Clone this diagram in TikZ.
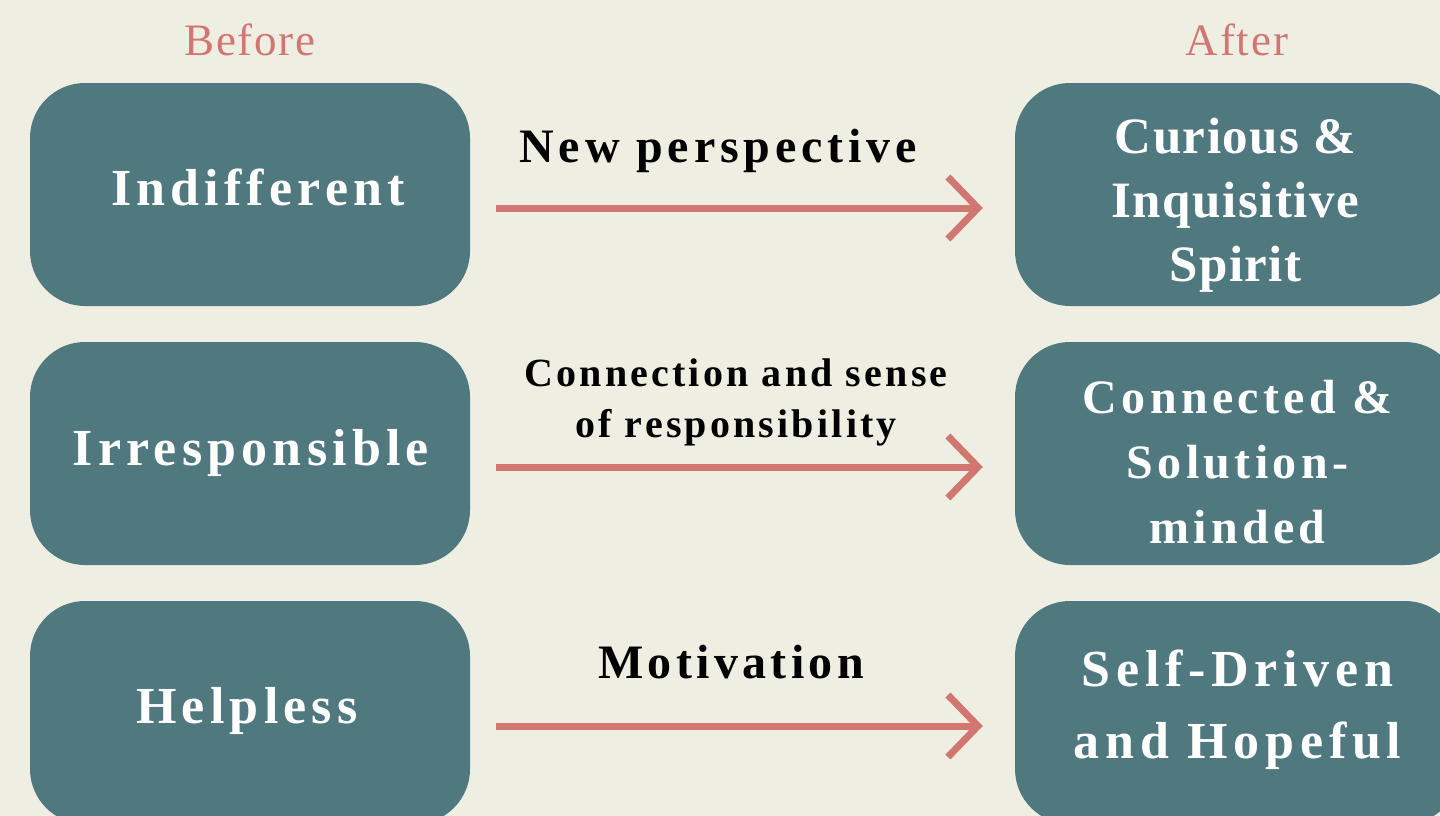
\documentclass[tikz,border=0pt]{standalone}
\usepackage{fontspec}
\setmainfont{Liberation Serif}
\usetikzlibrary{arrows.meta}
\definecolor{bgc}{HTML}{EEEEE2}
\definecolor{boxc}{HTML}{50787F}
\definecolor{rose}{HTML}{D27672}
\begin{document}
\begin{tikzpicture}[x=1pt,y=-1pt,
  box/.style={fill=boxc, rounded corners=55pt, minimum height=223pt, inner sep=0pt},
  lbox/.style={box, minimum width=440pt},
  rbox/.style={box, minimum width=445pt},
  ltxt/.style={text=white, inner sep=0pt,
    font=\fontsize{52}{60}\selectfont\bfseries\addfontfeature{LetterSpace=10}},
  rtxt/.style={text=white, inner sep=0pt, align=center},
  head/.style={text=rose, font=\fontsize{45}{50}\selectfont\addfontfeature{LetterSpace=4}},
  lbl/.style={text=black, align=center},
  arr/.style={draw=rose, line width=7pt, -{Straight Barb[length=30pt,width=62pt]}}
]
\useasboundingbox (0,0) rectangle (1440,816);
\fill[bgc] (0,0) rectangle (1440,816);

\node[head] (hb) at (250,40) {Before};
\node[head] (ha) at (1237,40) {After};

\node[lbox] (L1) at (250,194.5) {};
\node[lbox] (L2) at (250,453.5) {};
\node[lbox] (L3) at (250,712.5) {};
\node[ltxt] (L1t) at ([xshift=8pt,yshift=7pt]L1.center) {Indifferent};
\node[ltxt] (L2t) at ([xshift=1pt,yshift=1pt]L2.center) {Irresponsible};
\node[ltxt] (L3t) at ([xshift=-3pt,yshift=2pt]L3.center) {Helpless};

\node[rbox] (R1) at (1237.5,194.5) {};
\node[rbox] (R2) at (1237.5,453.5) {};
\node[rbox] (R3) at (1237.5,712.5) {};
\node[rtxt, font=\fontsize{51}{64}\selectfont\bfseries\addfontfeature{LetterSpace=3}]
  (R1t) at ([xshift=-2pt,yshift=-11pt]R1.center) {Curious \&\\Inquisitive\\Spirit};
\node[rtxt, font=\fontsize{48}{65}\selectfont\bfseries\addfontfeature{LetterSpace=9}]
  (R2t) at ([yshift=-8.5pt]R2.center) {Connected \&\\Solution-\\minded};
\node[rtxt, font=\fontsize{52}{72}\selectfont\bfseries\addfontfeature{LetterSpace=11}]
  (R3t) at ([yshift=2.5pt]R3.center) {Self-Driven\\and Hopeful};

\draw[arr] ([shift={(26,13.5)}]L1.east) -- ([shift={(-32,13.5)}]R1.west);
\draw[arr] ([shift={(26,13.5)}]L2.east) -- ([shift={(-32,13.5)}]R2.west);
\draw[arr] ([shift={(26,13.5)}]L3.east) -- ([shift={(-32,13.5)}]R3.west);

\node[lbl, font=\fontsize{48}{50}\selectfont\bfseries\addfontfeature{LetterSpace=10}] (t1) at (718,151) {New perspective};
\node[lbl, font=\fontsize{40}{51}\selectfont\bfseries\addfontfeature{LetterSpace=8}] (t2) at (736,402) {Connection and sense\\of responsibility};
\node[lbl, font=\fontsize{48}{50}\selectfont\bfseries\addfontfeature{LetterSpace=9}] (t3) at (731,662) {Motivation};
\end{tikzpicture}
\end{document}
